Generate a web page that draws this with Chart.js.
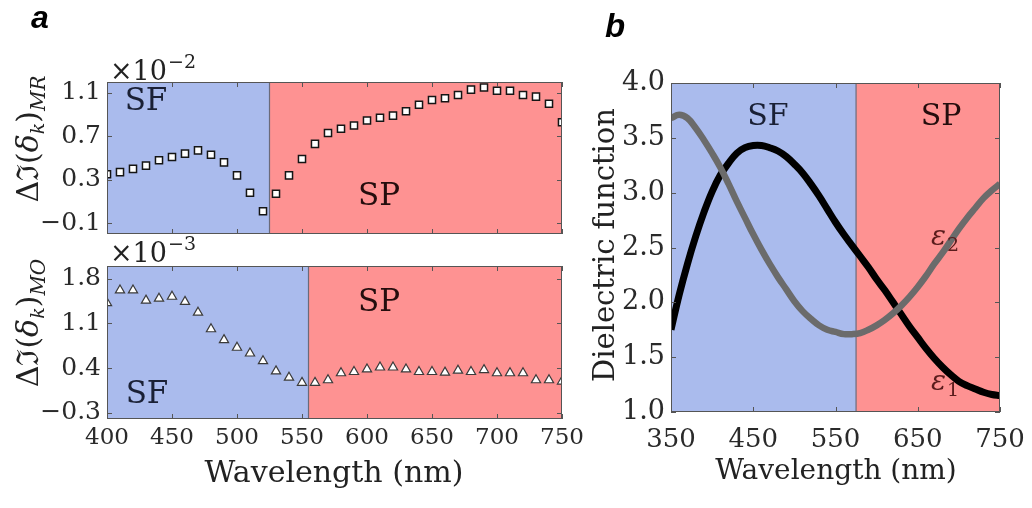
<!DOCTYPE html>
<html>
<head>
<meta charset="utf-8">
<script src="https://cdn.jsdelivr.net/npm/chart.js@4.4.0/dist/chart.umd.min.js"></script>
<style>
  html, body { margin: 0; padding: 0; background: #fff; }
  .panel { position: absolute; left: 0; top: 0; width: 1032px; height: 508px; }
</style>
</head>
<body>
<div class="panel"><canvas id="mr"></canvas></div>
<div class="panel"><canvas id="mo"></canvas></div>
<div class="panel"><canvas id="eps"></canvas></div>
<script>
// wavelength grid of the measured spectra (nm)
const wavelengths = [400, 410, 420, 430, 440, 450, 460, 470, 480, 490, 500, 510,
  520, 530, 540, 550, 560, 570, 580, 590, 600, 610, 620, 630, 640, 650, 660, 670,
  680, 690, 700, 710, 720, 730, 740, 750];

// magnetorefractive part, units of 1e-2
const deltaMR = [0.35, 0.37, 0.40, 0.43, 0.48, 0.51, 0.54, 0.57, 0.53, 0.46, 0.34, 0.18,
  0.01, 0.17, 0.34, 0.49, 0.63, 0.73, 0.77, 0.80, 0.845, 0.87, 0.89, 0.93, 0.99, 1.035,
  1.05, 1.08, 1.13, 1.15, 1.12, 1.12, 1.08, 1.065, 1.0, 0.83];

// magneto-optical part, units of 1e-3
const deltaMO = [1.42, 1.62, 1.62, 1.46, 1.49, 1.52, 1.44, 1.27, 1.01, 0.84, 0.72, 0.63,
  0.51, 0.35, 0.25, 0.17, 0.17, 0.21, 0.32, 0.34, 0.38, 0.41, 0.41, 0.38, 0.34, 0.34,
  0.33, 0.36, 0.34, 0.37, 0.32, 0.32, 0.32, 0.21, 0.21, 0.19];

const mrTicks = [-0.1, 0.3, 0.7, 1.1];
const moTicks = [-0.3, 0.4, 1.1, 1.8];
const leftXTicks = [400, 450, 500, 550, 600, 650, 700, 750];

// dielectric function
const epsWavelengths = [350, 360, 370, 380, 390, 400, 410, 420, 430, 440, 450, 460, 470,
  480, 490, 500, 510, 520, 530, 540, 550, 560, 570, 580, 590, 600, 610, 620, 630, 640,
  650, 660, 670, 680, 690, 700, 710, 720, 730, 740, 750];
const eps1 = [1.75, 2.07, 2.35, 2.60, 2.82, 3.01, 3.16, 3.27, 3.36, 3.41, 3.43, 3.43, 3.41,
  3.38, 3.33, 3.26, 3.18, 3.08, 2.97, 2.85, 2.73, 2.62, 2.52, 2.42, 2.32, 2.21, 2.11, 2.00,
  1.89, 1.78, 1.68, 1.58, 1.49, 1.41, 1.34, 1.28, 1.24, 1.21, 1.18, 1.16, 1.15];
const eps2 = [3.68, 3.71, 3.68, 3.59, 3.48, 3.36, 3.23, 3.08, 2.92, 2.77, 2.62, 2.48, 2.35,
  2.23, 2.12, 2.01, 1.92, 1.85, 1.79, 1.75, 1.73, 1.71, 1.71, 1.72, 1.75, 1.79, 1.84, 1.90,
  1.97, 2.05, 2.14, 2.24, 2.35, 2.45, 2.56, 2.67, 2.77, 2.86, 2.95, 3.02, 3.08];
const epsYTicks = [1.0, 1.5, 2.0, 2.5, 3.0, 3.5, 4.0];
const epsXTicks = [350, 450, 550, 650, 750];

// SF / SP crossover wavelengths
const mrBoundary = 525;
const moBoundary = 555;
const epsBoundary = 575;

const SERIF = '"DejaVu Serif", serif';
const SF_FILL = '#aabbed';
const SP_FILL = '#fe9292';

const fmt = v => (v < 0 ? '\u2212' + Math.abs(v).toFixed(1) : v.toFixed(1));

function text(ctx, str, x, y, font, color, align) {
  ctx.font = font;
  ctx.fillStyle = color || '#222';
  ctx.textAlign = align || 'center';
  ctx.textBaseline = 'middle';
  ctx.fillText(str, x, y);
}

// rotated label built from runs of differently styled text
function rotated(ctx, cx, cy, parts) {
  ctx.save();
  ctx.translate(cx, cy);
  ctx.rotate(-Math.PI / 2);
  ctx.textBaseline = 'alphabetic';
  ctx.textAlign = 'left';
  ctx.fillStyle = '#222';
  let total = 0;
  parts.forEach(p => { ctx.font = p.font; p.w = ctx.measureText(p.t).width; total += p.w; });
  let x = -total / 2;
  parts.forEach(p => { ctx.font = p.font; ctx.fillText(p.t, x, p.dy || 0); x += p.w; });
  ctx.restore();
}

function decor(boundary, xTicks, yTicks, drawLabels) {
  return {
    id: 'decor',
    beforeDatasetsDraw(chart) {
      const { ctx, chartArea: a, scales: { x } } = chart;
      const bx = x.getPixelForValue(boundary);
      ctx.save();
      ctx.fillStyle = SF_FILL;
      ctx.fillRect(a.left, a.top, bx - a.left, a.height);
      ctx.fillStyle = SP_FILL;
      ctx.fillRect(bx, a.top, a.right - bx, a.height);
      ctx.strokeStyle = '#6a6a7a';
      ctx.lineWidth = 1.2;
      ctx.beginPath();
      ctx.moveTo(bx, a.top);
      ctx.lineTo(bx, a.bottom);
      ctx.stroke();
      ctx.restore();
    },
    afterDraw(chart) {
      const { ctx, chartArea: a, scales: { x, y } } = chart;
      ctx.save();
      ctx.strokeStyle = '#555';
      ctx.lineWidth = 1;
      ctx.strokeRect(a.left + 0.5, a.top + 0.5, a.width - 1, a.height - 1);
      ctx.beginPath();
      xTicks.forEach(v => {
        const px = Math.round(x.getPixelForValue(v)) + 0.5;
        ctx.moveTo(px, a.bottom); ctx.lineTo(px, a.bottom - 5);
        ctx.moveTo(px, a.top); ctx.lineTo(px, a.top + 5);
      });
      yTicks.forEach(v => {
        const py = Math.round(y.getPixelForValue(v)) + 0.5;
        ctx.moveTo(a.left, py); ctx.lineTo(a.left + 5, py);
        ctx.moveTo(a.right, py); ctx.lineTo(a.right - 5, py);
      });
      ctx.stroke();
      drawLabels(ctx);
      ctx.restore();
    }
  };
}

function options(cfg) {
  return {
    responsive: true,
    maintainAspectRatio: false,
    animation: false,
    events: [],
    layout: { padding: cfg.padding },
    plugins: { legend: { display: false }, tooltip: { enabled: false } },
    scales: {
      x: {
        type: 'linear',
        min: cfg.xMin, max: cfg.xMax,
        display: cfg.showX,
        grid: { display: false, drawTicks: false },
        border: { display: false },
        afterBuildTicks: s => { s.ticks = cfg.xTicks.map(v => ({ value: v })); },
        // fixed height; end labels may overhang the plot edges
        afterFit: s => { s.height = cfg.xHeight; s.paddingLeft = 0; s.paddingRight = 0; },
        ticks: {
          autoSkip: false, maxRotation: 0, padding: cfg.xPad,
          color: '#2a2a2a', font: { family: SERIF, size: cfg.xFont },
          callback: v => String(v)
        }
      },
      y: {
        type: 'linear',
        min: cfg.yMin, max: cfg.yMax,
        grid: { display: false, drawTicks: false },
        border: { display: false },
        afterBuildTicks: s => { s.ticks = cfg.yTicks.map(v => ({ value: v })); },
        afterFit: s => { s.width = cfg.yWidth; s.paddingTop = 0; s.paddingBottom = 0; },
        ticks: {
          autoSkip: false, padding: 6,
          color: '#2a2a2a', font: { family: SERIF, size: cfg.yFont },
          callback: v => fmt(v)
        }
      }
    }
  };
}

// panel a, top: magnetorefractive contribution
new Chart(document.getElementById('mr'), {
  type: 'scatter',
  data: {
    datasets: [{
      data: wavelengths.map((w, i) => ({ x: w, y: deltaMR[i] })),
      pointStyle: 'rect', pointRadius: 5, borderWidth: 1.5,
      borderColor: '#151515', backgroundColor: '#ffffff', clip: 0
    }]
  },
  options: options({
    padding: { left: 0, top: 82, right: 470, bottom: 274 },
    xMin: 400, xMax: 750, yMin: -0.2, yMax: 1.2,
    xTicks: leftXTicks, yTicks: mrTicks, showX: false,
    xHeight: 0, yWidth: 107, xFont: 22, yFont: 25, xPad: 6
  }),
  plugins: [decor(mrBoundary, leftXTicks, mrTicks, ctx => {
    text(ctx, 'SF', 146, 102, '31px ' + SERIF, '#1a2035');
    text(ctx, 'SP', 379, 197, '31px ' + SERIF, '#240d0d');
    ctx.textBaseline = 'alphabetic';
    ctx.textAlign = 'left';
    ctx.fillStyle = '#222';
    ctx.font = '27px ' + SERIF;
    ctx.fillText('\u00d710', 110, 80);
    const w = ctx.measureText('\u00d710').width;
    ctx.font = '19px ' + SERIF;
    ctx.fillText('\u22122', 110 + w + 1, 68);
    rotated(ctx, 38, 139, [
      { t: '\u0394\u2111(', font: '30px ' + SERIF },
      { t: '\u03b4', font: 'italic 30px ' + SERIF },
      { t: 'k', font: 'italic 19px ' + SERIF, dy: 6 },
      { t: ')', font: '30px ' + SERIF },
      { t: 'MR', font: 'italic 20px ' + SERIF, dy: 7 }
    ]);
    ctx.font = 'italic bold 32px "Liberation Sans", Arial, sans-serif';
    ctx.fillStyle = '#000';
    ctx.textAlign = 'left';
    ctx.textBaseline = 'alphabetic';
    ctx.fillText('a', 31, 28);
  })]
});

// panel a, bottom: magneto-optical contribution
new Chart(document.getElementById('mo'), {
  type: 'scatter',
  data: {
    datasets: [{
      data: wavelengths.map((w, i) => ({ x: w, y: deltaMO[i] })),
      pointStyle: 'triangle', pointRadius: 5.3, borderWidth: 1.2,
      borderColor: '#3a3a3a', backgroundColor: '#ffffff', clip: 0
    }]
  },
  options: options({
    padding: { left: 0, top: 266, right: 470, bottom: 44 },
    xMin: 400, xMax: 750, yMin: -0.4, yMax: 2.0,
    xTicks: leftXTicks, yTicks: moTicks, showX: true,
    xHeight: 45, yWidth: 107, xFont: 23, yFont: 25, xPad: 5
  }),
  plugins: [decor(moBoundary, leftXTicks, moTicks, ctx => {
    text(ctx, 'SP', 379, 303, '31px ' + SERIF, '#240d0d');
    text(ctx, 'SF', 147, 395, '31px ' + SERIF, '#1a2035');
    ctx.textBaseline = 'alphabetic';
    ctx.textAlign = 'left';
    ctx.fillStyle = '#222';
    ctx.font = '27px ' + SERIF;
    ctx.fillText('\u00d710', 110, 262);
    const w = ctx.measureText('\u00d710').width;
    ctx.font = '19px ' + SERIF;
    ctx.fillText('\u22123', 110 + w + 1, 250);
    rotated(ctx, 38, 323, [
      { t: '\u0394\u2111(', font: '30px ' + SERIF },
      { t: '\u03b4', font: 'italic 30px ' + SERIF },
      { t: 'k', font: 'italic 19px ' + SERIF, dy: 6 },
      { t: ')', font: '30px ' + SERIF },
      { t: 'MO', font: 'italic 20px ' + SERIF, dy: 7 }
    ]);
    ctx.font = '30px ' + SERIF;
    ctx.textAlign = 'center';
    ctx.fillText('Wavelength (nm)', 334, 482);
  })]
});

// panel b: real and imaginary parts of the dielectric function
new Chart(document.getElementById('eps'), {
  type: 'scatter',
  data: {
    datasets: [
      {
        data: epsWavelengths.map((w, i) => ({ x: w, y: eps2[i] })),
        showLine: true, pointRadius: 0, borderWidth: 6.5,
        borderColor: '#6b6b6b', tension: 0.4, clip: 0
      },
      {
        data: epsWavelengths.map((w, i) => ({ x: w, y: eps1[i] })),
        showLine: true, pointRadius: 0, borderWidth: 7,
        borderColor: '#000000', tension: 0.4, clip: 0
      }
    ]
  },
  options: options({
    padding: { left: 571, top: 83, right: 32, bottom: 51 },
    xMin: 350, xMax: 750, yMin: 1.0, yMax: 4.0,
    xTicks: epsXTicks, yTicks: epsYTicks, showX: true,
    xHeight: 45, yWidth: 100, xFont: 26, yFont: 27, xPad: 13
  }),
  plugins: [decor(epsBoundary, epsXTicks, epsYTicks, ctx => {
    text(ctx, 'SF', 768, 117, '30px ' + SERIF, '#1a2035');
    text(ctx, 'SP', 941, 117, '30px ' + SERIF, '#240d0d');
    ctx.textBaseline = 'alphabetic';
    ctx.textAlign = 'left';
    ctx.fillStyle = '#5a1c1c';
    ctx.font = 'italic 28px ' + SERIF;
    ctx.fillText('\u03b5', 931, 245);
    ctx.fillText('\u03b5', 931, 390);
    ctx.font = '19px ' + SERIF;
    ctx.fillText('2', 947, 251);
    ctx.fillText('1', 947, 396);
    ctx.fillStyle = '#222';
    ctx.font = '28px ' + SERIF;
    ctx.textAlign = 'center';
    ctx.fillText('Wavelength (nm)', 836, 479);
    rotated(ctx, 614, 245, [{ t: 'Dielectric function', font: '29px ' + SERIF }]);
    ctx.font = 'italic bold 33px "Liberation Sans", Arial, sans-serif';
    ctx.fillStyle = '#000';
    ctx.textAlign = 'left';
    ctx.fillText('b', 605, 37);
  })]
});
</script>
</body>
</html>
